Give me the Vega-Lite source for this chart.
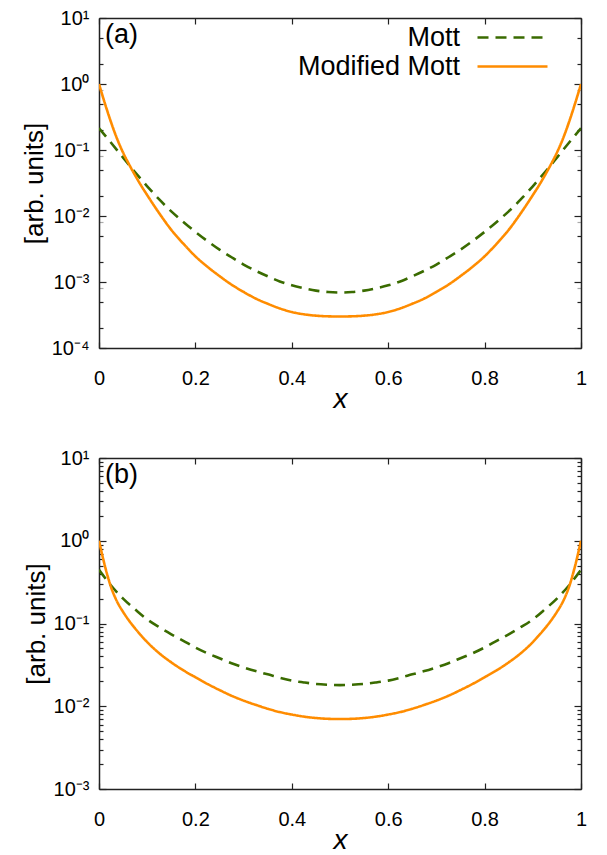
{
  "$schema": "https://vega.github.io/schema/vega-lite/v6.json",
  "background": "white",
  "padding": {"left": 21, "top": 8, "right": 5, "bottom": 0},
  "config": {
    "font": "Liberation Sans",
    "view": {"stroke": null},
    "axis": {"grid": false, "domainColor": "#222", "domainWidth": 1.5, "tickColor": "#222", "tickWidth": 1.2, "labelColor": "black", "titleColor": "black", "labelFlush": false, "labelOverlap": false},
    "legend": {"title": null, "orient": "none", "legendX": 398, "legendY": 4, "symbolType": "M-2.5,0H2.5", "symbolSize": 784, "symbolStrokeWidth": 2.6, "labelFontSize": 27, "labelColor": "black", "labelAlign": "right", "labelOffset": -68, "rowPadding": -2, "padding": 0, "labelLimit": 400}
  },
  "datasets": {
    "a": [
      {"series": "Mott", "x": 0, "y": 0.214},
      {"series": "Mott", "x": 0.025, "y": 0.129},
      {"series": "Mott", "x": 0.05, "y": 0.0767},
      {"series": "Mott", "x": 0.075, "y": 0.0459},
      {"series": "Mott", "x": 0.1, "y": 0.0282},
      {"series": "Mott", "x": 0.125, "y": 0.0178},
      {"series": "Mott", "x": 0.15, "y": 0.01175},
      {"series": "Mott", "x": 0.175, "y": 0.00813},
      {"series": "Mott", "x": 0.2, "y": 0.00575},
      {"series": "Mott", "x": 0.225, "y": 0.00417},
      {"series": "Mott", "x": 0.25, "y": 0.00309},
      {"series": "Mott", "x": 0.275, "y": 0.00237},
      {"series": "Mott", "x": 0.3, "y": 0.00184},
      {"series": "Mott", "x": 0.325, "y": 0.00148},
      {"series": "Mott", "x": 0.35, "y": 0.00122},
      {"series": "Mott", "x": 0.375, "y": 0.00102},
      {"series": "Mott", "x": 0.4, "y": 0.000891},
      {"series": "Mott", "x": 0.425, "y": 0.000804},
      {"series": "Mott", "x": 0.45, "y": 0.000741},
      {"series": "Mott", "x": 0.475, "y": 0.000705},
      {"series": "Mott", "x": 0.5, "y": 0.000692},
      {"series": "Mott", "x": 0.525, "y": 0.000705},
      {"series": "Mott", "x": 0.55, "y": 0.000741},
      {"series": "Mott", "x": 0.575, "y": 0.000804},
      {"series": "Mott", "x": 0.6, "y": 0.000891},
      {"series": "Mott", "x": 0.625, "y": 0.00102},
      {"series": "Mott", "x": 0.65, "y": 0.00122},
      {"series": "Mott", "x": 0.675, "y": 0.00148},
      {"series": "Mott", "x": 0.7, "y": 0.00184},
      {"series": "Mott", "x": 0.725, "y": 0.00237},
      {"series": "Mott", "x": 0.75, "y": 0.00309},
      {"series": "Mott", "x": 0.775, "y": 0.00417},
      {"series": "Mott", "x": 0.8, "y": 0.00575},
      {"series": "Mott", "x": 0.825, "y": 0.00813},
      {"series": "Mott", "x": 0.85, "y": 0.01175},
      {"series": "Mott", "x": 0.875, "y": 0.0178},
      {"series": "Mott", "x": 0.9, "y": 0.0282},
      {"series": "Mott", "x": 0.925, "y": 0.0459},
      {"series": "Mott", "x": 0.95, "y": 0.0767},
      {"series": "Mott", "x": 0.975, "y": 0.129},
      {"series": "Mott", "x": 1, "y": 0.214},
      {"series": "Modified Mott", "x": 0, "y": 1},
      {"series": "Modified Mott", "x": 0.0125, "y": 0.501},
      {"series": "Modified Mott", "x": 0.025, "y": 0.263},
      {"series": "Modified Mott", "x": 0.0375, "y": 0.148},
      {"series": "Modified Mott", "x": 0.05, "y": 0.0912},
      {"series": "Modified Mott", "x": 0.0625, "y": 0.0603},
      {"series": "Modified Mott", "x": 0.075, "y": 0.0412},
      {"series": "Modified Mott", "x": 0.0875, "y": 0.0288},
      {"series": "Modified Mott", "x": 0.1, "y": 0.0207},
      {"series": "Modified Mott", "x": 0.125, "y": 0.011},
      {"series": "Modified Mott", "x": 0.15, "y": 0.00617},
      {"series": "Modified Mott", "x": 0.175, "y": 0.0038},
      {"series": "Modified Mott", "x": 0.2, "y": 0.00245},
      {"series": "Modified Mott", "x": 0.225, "y": 0.0017},
      {"series": "Modified Mott", "x": 0.25, "y": 0.00123},
      {"series": "Modified Mott", "x": 0.275, "y": 0.000912},
      {"series": "Modified Mott", "x": 0.3, "y": 0.000708},
      {"series": "Modified Mott", "x": 0.325, "y": 0.000562},
      {"series": "Modified Mott", "x": 0.35, "y": 0.000468},
      {"series": "Modified Mott", "x": 0.375, "y": 0.000398},
      {"series": "Modified Mott", "x": 0.4, "y": 0.000351},
      {"series": "Modified Mott", "x": 0.425, "y": 0.000324},
      {"series": "Modified Mott", "x": 0.45, "y": 0.000309},
      {"series": "Modified Mott", "x": 0.475, "y": 0.000302},
      {"series": "Modified Mott", "x": 0.5, "y": 0.0003},
      {"series": "Modified Mott", "x": 0.525, "y": 0.000302},
      {"series": "Modified Mott", "x": 0.55, "y": 0.000309},
      {"series": "Modified Mott", "x": 0.575, "y": 0.000324},
      {"series": "Modified Mott", "x": 0.6, "y": 0.000351},
      {"series": "Modified Mott", "x": 0.625, "y": 0.000398},
      {"series": "Modified Mott", "x": 0.65, "y": 0.000468},
      {"series": "Modified Mott", "x": 0.675, "y": 0.000562},
      {"series": "Modified Mott", "x": 0.7, "y": 0.000708},
      {"series": "Modified Mott", "x": 0.725, "y": 0.000912},
      {"series": "Modified Mott", "x": 0.75, "y": 0.00123},
      {"series": "Modified Mott", "x": 0.775, "y": 0.0017},
      {"series": "Modified Mott", "x": 0.8, "y": 0.00245},
      {"series": "Modified Mott", "x": 0.825, "y": 0.0038},
      {"series": "Modified Mott", "x": 0.85, "y": 0.00617},
      {"series": "Modified Mott", "x": 0.875, "y": 0.011},
      {"series": "Modified Mott", "x": 0.9, "y": 0.0207},
      {"series": "Modified Mott", "x": 0.9125, "y": 0.0288},
      {"series": "Modified Mott", "x": 0.925, "y": 0.0412},
      {"series": "Modified Mott", "x": 0.9375, "y": 0.0603},
      {"series": "Modified Mott", "x": 0.95, "y": 0.0912},
      {"series": "Modified Mott", "x": 0.9625, "y": 0.148},
      {"series": "Modified Mott", "x": 0.975, "y": 0.263},
      {"series": "Modified Mott", "x": 0.9875, "y": 0.501},
      {"series": "Modified Mott", "x": 1, "y": 1}
    ],
    "b": [
      {"series": "Mott", "x": 0, "y": 0.447},
      {"series": "Mott", "x": 0.025, "y": 0.288},
      {"series": "Mott", "x": 0.05, "y": 0.2},
      {"series": "Mott", "x": 0.075, "y": 0.148},
      {"series": "Mott", "x": 0.1, "y": 0.112},
      {"series": "Mott", "x": 0.125, "y": 0.0902},
      {"series": "Mott", "x": 0.15, "y": 0.0741},
      {"series": "Mott", "x": 0.175, "y": 0.0617},
      {"series": "Mott", "x": 0.2, "y": 0.0513},
      {"series": "Mott", "x": 0.225, "y": 0.0437},
      {"series": "Mott", "x": 0.25, "y": 0.038},
      {"series": "Mott", "x": 0.275, "y": 0.0331},
      {"series": "Mott", "x": 0.3, "y": 0.0295},
      {"series": "Mott", "x": 0.325, "y": 0.0266},
      {"series": "Mott", "x": 0.35, "y": 0.0243},
      {"series": "Mott", "x": 0.375, "y": 0.0221},
      {"series": "Mott", "x": 0.4, "y": 0.0204},
      {"series": "Mott", "x": 0.425, "y": 0.0194},
      {"series": "Mott", "x": 0.45, "y": 0.0186},
      {"series": "Mott", "x": 0.475, "y": 0.0182},
      {"series": "Mott", "x": 0.5, "y": 0.018},
      {"series": "Mott", "x": 0.525, "y": 0.0182},
      {"series": "Mott", "x": 0.55, "y": 0.0186},
      {"series": "Mott", "x": 0.575, "y": 0.0194},
      {"series": "Mott", "x": 0.6, "y": 0.0204},
      {"series": "Mott", "x": 0.625, "y": 0.0221},
      {"series": "Mott", "x": 0.65, "y": 0.0243},
      {"series": "Mott", "x": 0.675, "y": 0.0266},
      {"series": "Mott", "x": 0.7, "y": 0.0295},
      {"series": "Mott", "x": 0.725, "y": 0.0331},
      {"series": "Mott", "x": 0.75, "y": 0.038},
      {"series": "Mott", "x": 0.775, "y": 0.0437},
      {"series": "Mott", "x": 0.8, "y": 0.0513},
      {"series": "Mott", "x": 0.825, "y": 0.0617},
      {"series": "Mott", "x": 0.85, "y": 0.0741},
      {"series": "Mott", "x": 0.875, "y": 0.0902},
      {"series": "Mott", "x": 0.9, "y": 0.112},
      {"series": "Mott", "x": 0.925, "y": 0.148},
      {"series": "Mott", "x": 0.95, "y": 0.2},
      {"series": "Mott", "x": 0.975, "y": 0.288},
      {"series": "Mott", "x": 1, "y": 0.447},
      {"series": "Modified Mott", "x": 0, "y": 1},
      {"series": "Modified Mott", "x": 0.0125, "y": 0.49},
      {"series": "Modified Mott", "x": 0.025, "y": 0.275},
      {"series": "Modified Mott", "x": 0.0375, "y": 0.184},
      {"series": "Modified Mott", "x": 0.05, "y": 0.138},
      {"series": "Modified Mott", "x": 0.0625, "y": 0.108},
      {"series": "Modified Mott", "x": 0.075, "y": 0.0871},
      {"series": "Modified Mott", "x": 0.0875, "y": 0.0716},
      {"series": "Modified Mott", "x": 0.1, "y": 0.0596},
      {"series": "Modified Mott", "x": 0.125, "y": 0.0437},
      {"series": "Modified Mott", "x": 0.15, "y": 0.0339},
      {"series": "Modified Mott", "x": 0.175, "y": 0.0272},
      {"series": "Modified Mott", "x": 0.2, "y": 0.0224},
      {"series": "Modified Mott", "x": 0.225, "y": 0.0186},
      {"series": "Modified Mott", "x": 0.25, "y": 0.0157},
      {"series": "Modified Mott", "x": 0.275, "y": 0.0134},
      {"series": "Modified Mott", "x": 0.3, "y": 0.0117},
      {"series": "Modified Mott", "x": 0.325, "y": 0.0104},
      {"series": "Modified Mott", "x": 0.35, "y": 0.00933},
      {"series": "Modified Mott", "x": 0.375, "y": 0.00851},
      {"series": "Modified Mott", "x": 0.4, "y": 0.00794},
      {"series": "Modified Mott", "x": 0.425, "y": 0.0075},
      {"series": "Modified Mott", "x": 0.45, "y": 0.00721},
      {"series": "Modified Mott", "x": 0.475, "y": 0.00705},
      {"series": "Modified Mott", "x": 0.5, "y": 0.007},
      {"series": "Modified Mott", "x": 0.525, "y": 0.00705},
      {"series": "Modified Mott", "x": 0.55, "y": 0.00721},
      {"series": "Modified Mott", "x": 0.575, "y": 0.0075},
      {"series": "Modified Mott", "x": 0.6, "y": 0.00794},
      {"series": "Modified Mott", "x": 0.625, "y": 0.00851},
      {"series": "Modified Mott", "x": 0.65, "y": 0.00933},
      {"series": "Modified Mott", "x": 0.675, "y": 0.0104},
      {"series": "Modified Mott", "x": 0.7, "y": 0.0117},
      {"series": "Modified Mott", "x": 0.725, "y": 0.0134},
      {"series": "Modified Mott", "x": 0.75, "y": 0.0157},
      {"series": "Modified Mott", "x": 0.775, "y": 0.0186},
      {"series": "Modified Mott", "x": 0.8, "y": 0.0224},
      {"series": "Modified Mott", "x": 0.825, "y": 0.0272},
      {"series": "Modified Mott", "x": 0.85, "y": 0.0339},
      {"series": "Modified Mott", "x": 0.875, "y": 0.0437},
      {"series": "Modified Mott", "x": 0.9, "y": 0.0596},
      {"series": "Modified Mott", "x": 0.9125, "y": 0.0716},
      {"series": "Modified Mott", "x": 0.925, "y": 0.0871},
      {"series": "Modified Mott", "x": 0.9375, "y": 0.108},
      {"series": "Modified Mott", "x": 0.95, "y": 0.138},
      {"series": "Modified Mott", "x": 0.9625, "y": 0.184},
      {"series": "Modified Mott", "x": 0.975, "y": 0.275},
      {"series": "Modified Mott", "x": 0.9875, "y": 0.49},
      {"series": "Modified Mott", "x": 1, "y": 1}
    ]
  },
  "spacing": 35,
  "vconcat": [
    {
      "width": 482,
      "height": 330,
      "data": {"name": "a"},
      "resolve": {"axis": {"x": "independent", "y": "independent"}},
      "layer": [
        {
          "mark": {"type": "line", "strokeWidth": 2.6, "interpolate": "monotone", "clip": true},
          "encoding": {
            "x": {"field": "x", "type": "quantitative", "scale": {"domain": [0, 1], "nice": false},
              "axis": {"orient": "bottom", "values": [0, 0.2, 0.4, 0.6, 0.8, 1], "format": "~g", "tickSize": -6, "labelFontSize": 20, "labelPadding": 26, "title": "x", "titleFontStyle": "italic", "titleFontWeight": "normal", "titleFontSize": 28, "titlePadding": -3}},
            "y": {"field": "y", "type": "quantitative", "scale": {"type": "log", "domain": [0.0001, 10], "nice": false},
              "axis": {"orient": "left",
                "values": [10, 1, 0.1, 0.01, 0.001, 0.0001, 5, 2, 0.8, 0.5, 0.2, 0.08, 0.05, 0.02, 0.008, 0.005, 0.002, 0.0008, 0.0005, 0.0002],
                "labelExpr": "datum.value == 10 ? '10¹' : datum.value == 1 ? '10⁰' : datum.value == 0.1 ? '10⁻¹' : datum.value == 0.01 ? '10⁻²' : datum.value == 0.001 ? '10⁻³' : datum.value == 0.0001 ? '10⁻⁴' : ''",
                "tickSize": {"condition": {"test": "indexof([10, 1, 0.1, 0.01, 0.001, 0.0001], datum.value) >= 0", "value": -7}, "value": -4},
                "tickColor": {"condition": {"test": "indexof([0.8, 0.08, 0.008, 0.0008], datum.value) >= 0", "value": "#aaaaaa"}, "value": "#222222"},
                "labelFontSize": 20, "labelPadding": 17, "title": "[arb. units]", "titleFontSize": 26, "titleFontWeight": "normal", "titlePadding": 4}},
            "color": {"field": "series", "type": "nominal", "scale": {"domain": ["Mott", "Modified Mott"], "range": ["#3a6b00", "#ff8c00"]}},
            "strokeDash": {"field": "series", "type": "nominal", "scale": {"domain": ["Mott", "Modified Mott"], "range": [[11, 7], [1, 0]]}}
          }
        },
        {
          "mark": {"type": "line", "strokeOpacity": 0},
          "encoding": {
            "x": {"field": "x", "type": "quantitative", "axis": {"orient": "top", "values": [0, 0.2, 0.4, 0.6, 0.8, 1], "tickSize": -6, "labels": false, "title": null}},
            "y": {"field": "y", "type": "quantitative",
              "axis": {"orient": "right",
                "values": [10, 1, 0.1, 0.01, 0.001, 0.0001, 5, 2, 0.8, 0.5, 0.2, 0.08, 0.05, 0.02, 0.008, 0.005, 0.002, 0.0008, 0.0005, 0.0002],
                "tickSize": {"condition": {"test": "indexof([10, 1, 0.1, 0.01, 0.001, 0.0001], datum.value) >= 0", "value": -7}, "value": -4},
                "tickColor": {"condition": {"test": "indexof([0.8, 0.08, 0.008, 0.0008], datum.value) >= 0", "value": "#aaaaaa"}, "value": "#222222"},
                "labels": false, "title": null}}
          }
        },
        {
          "data": {"values": [{}]},
          "mark": {"type": "text", "text": "(a)", "fontSize": 27, "align": "left", "baseline": "top", "dx": 6, "dy": 4, "color": "black"},
          "encoding": {"x": {"datum": 0, "axis": null}, "y": {"datum": 10, "axis": null}}
        }
      ]
    },
    {
      "width": 482,
      "height": 331,
      "data": {"name": "b"},
      "resolve": {"axis": {"x": "independent", "y": "independent"}},
      "layer": [
        {
          "mark": {"type": "line", "strokeWidth": 2.6, "interpolate": "monotone", "clip": true},
          "encoding": {
            "x": {"field": "x", "type": "quantitative", "scale": {"domain": [0, 1], "nice": false},
              "axis": {"orient": "bottom", "values": [0, 0.2, 0.4, 0.6, 0.8, 1], "format": "~g", "tickSize": -6, "labelFontSize": 20, "labelPadding": 26, "title": "x", "titleFontStyle": "italic", "titleFontWeight": "normal", "titleFontSize": 28, "titlePadding": -3}},
            "y": {"field": "y", "type": "quantitative", "scale": {"type": "log", "domain": [0.001, 10], "nice": false},
              "axis": {"orient": "left",
                "values": [10, 1, 0.1, 0.01, 0.001, 9, 8, 7, 6, 5, 4, 3, 2, 0.9, 0.8, 0.7, 0.6, 0.5, 0.4, 0.3, 0.2, 0.09, 0.08, 0.07, 0.06, 0.05, 0.04, 0.03, 0.02, 0.009, 0.008, 0.007, 0.006, 0.005, 0.004, 0.003, 0.002],
                "labelExpr": "datum.value == 10 ? '10¹' : datum.value == 1 ? '10⁰' : datum.value == 0.1 ? '10⁻¹' : datum.value == 0.01 ? '10⁻²' : datum.value == 0.001 ? '10⁻³' : ''",
                "tickSize": {"condition": {"test": "indexof([10, 1, 0.1, 0.01, 0.001], datum.value) >= 0", "value": -7}, "value": -4},
                "labelFontSize": 20, "labelPadding": 17, "title": "[arb. units]", "titleFontSize": 26, "titleFontWeight": "normal", "titlePadding": 4}},
            "color": {"field": "series", "type": "nominal", "scale": {"domain": ["Mott", "Modified Mott"], "range": ["#3a6b00", "#ff8c00"]}},
            "strokeDash": {"field": "series", "type": "nominal", "scale": {"domain": ["Mott", "Modified Mott"], "range": [[11, 7], [1, 0]]}}
          }
        },
        {
          "mark": {"type": "line", "strokeOpacity": 0},
          "encoding": {
            "x": {"field": "x", "type": "quantitative", "axis": {"orient": "top", "values": [0, 0.2, 0.4, 0.6, 0.8, 1], "tickSize": -6, "labels": false, "title": null}},
            "y": {"field": "y", "type": "quantitative",
              "axis": {"orient": "right",
                "values": [10, 1, 0.1, 0.01, 0.001, 9, 8, 7, 6, 5, 4, 3, 2, 0.9, 0.8, 0.7, 0.6, 0.5, 0.4, 0.3, 0.2, 0.09, 0.08, 0.07, 0.06, 0.05, 0.04, 0.03, 0.02, 0.009, 0.008, 0.007, 0.006, 0.005, 0.004, 0.003, 0.002],
                "tickSize": {"condition": {"test": "indexof([10, 1, 0.1, 0.01, 0.001], datum.value) >= 0", "value": -7}, "value": -4},
                "labels": false, "title": null}}
          }
        },
        {
          "data": {"values": [{}]},
          "mark": {"type": "text", "text": "(b)", "fontSize": 27, "align": "left", "baseline": "top", "dx": 6, "dy": 4, "color": "black"},
          "encoding": {"x": {"datum": 0, "axis": null}, "y": {"datum": 10, "axis": null}}
        }
      ]
    }
  ]
}
